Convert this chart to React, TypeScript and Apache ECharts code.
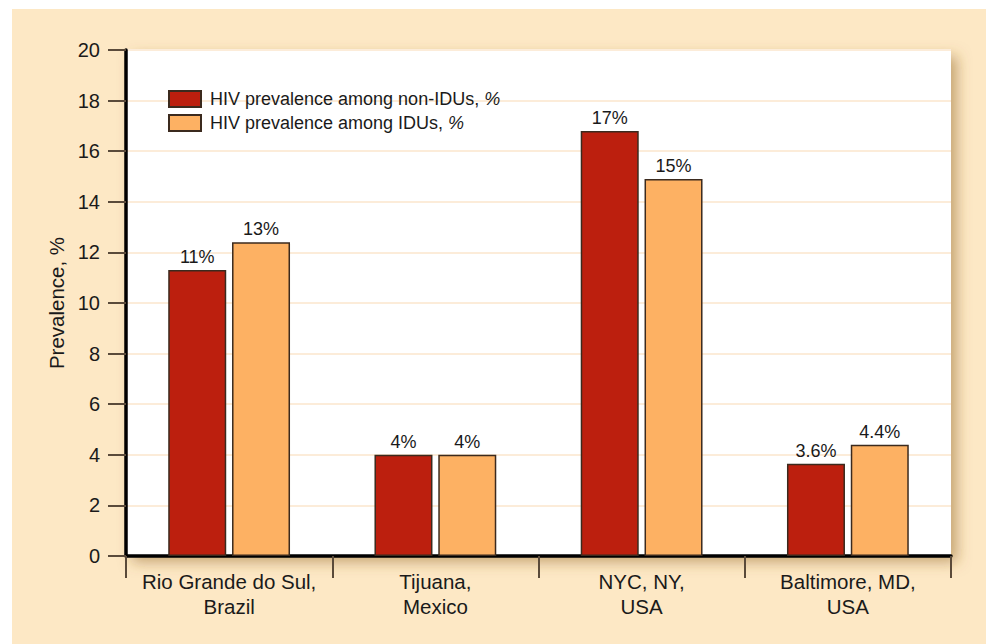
import React, { useEffect, useRef } from "react";
import * as echarts from "echarts";

const categories = ["Rio Grande do Sul,\nBrazil", "Tijuana,\nMexico", "NYC, NY,\nUSA", "Baltimore, MD,\nUSA"];
const seriesNames = ["HIV prevalence among non-IDUs, %", "HIV prevalence among IDUs, %"];
const nonIduValues = [11.3, 4.0, 16.8, 3.65];
const iduValues = [12.4, 4.0, 14.9, 4.4];
const nonIduLabels = ["11%", "4%", "17%", "3.6%"];
const iduLabels = ["13%", "4%", "15%", "4.4%"];
const yTicks = { min: 0, max: 20, interval: 2 };

const FONT = "'Liberation Sans', Arial, Helvetica, sans-serif";

export default function App() {
  const ref = useRef<HTMLDivElement>(null);
  useEffect(() => {
    if (!ref.current) return;
    const chart = echarts.init(ref.current, null, { renderer: "svg" });
    const border = "#3b2a1e";
    const mkLabel = (labels: string[]) => ({
      show: true,
      position: "top",
      distance: 4,
      fontFamily: FONT,
      fontSize: 18,
      color: "#1a1a1a",
      formatter: (p: any) => labels[p.dataIndex],
    });
    chart.setOption({
      animation: false,
      textStyle: { fontFamily: FONT },
      graphic: [
        {
          type: "rect",
          z: -10,
          shape: { x: 12, y: 9, width: 974, height: 635 },
          style: { fill: "#fde8c5" },
        },
      ],
      grid: {
        left: 126,
        right: 35,
        top: 50,
        bottom: 88,
        show: true,
        backgroundColor: "#ffffff",
        borderWidth: 0,
        shadowBlur: 14,
        shadowColor: "rgba(140,95,30,0.5)",
        shadowOffsetX: 6,
        shadowOffsetY: 6,
      },
      legend: {
        orient: "vertical",
        left: 163,
        top: 85,
        itemWidth: 32,
        itemHeight: 16,
        itemGap: 6,
        icon: "rect",
        data: seriesNames,
        formatter: (name: string) => `{n|${name.slice(0, -1)}}{i|%}`,
        textStyle: {
          fontFamily: FONT,
          fontSize: 18,
          color: "#1a1a1a",
          padding: [0, 0, 0, 4],
          rich: {
            n: { fontFamily: FONT, fontSize: 18, color: "#1a1a1a" },
            i: { fontFamily: FONT, fontSize: 18, color: "#1a1a1a", fontStyle: "italic" },
          },
        },
      },
      xAxis: {
        type: "category",
        data: categories,
        axisLine: { lineStyle: { color: "#000", width: 3.5 } },
        axisTick: { show: true, interval: 0, length: 22, lineStyle: { color: "#5a4a3a", width: 2 } },
        axisLabel: {
          interval: 0,
          fontFamily: FONT,
          fontSize: 20.5,
          lineHeight: 25,
          color: "#1a1a1a",
          margin: 13,
        },
      },
      yAxis: {
        type: "value",
        min: yTicks.min,
        max: yTicks.max,
        interval: yTicks.interval,
        name: "Prevalence, %",
        nameLocation: "middle",
        nameGap: 58,
        nameTextStyle: { fontFamily: FONT, fontSize: 20.5, color: "#1a1a1a" },
        axisLine: { show: true, lineStyle: { color: "#000", width: 3.5 } },
        axisTick: { show: true, length: 18, lineStyle: { color: "#5a4a3a", width: 2 } },
        axisLabel: { fontFamily: FONT, fontSize: 20, color: "#1a1a1a", margin: 26 },
        splitLine: { show: true, lineStyle: { color: "#fcecd9", width: 2 } },
      },
      series: [
        {
          name: seriesNames[0],
          type: "bar",
          data: nonIduValues,
          barWidth: 58,
          barGap: "10%",
          itemStyle: { color: "#bc1f0e", borderColor: border, borderWidth: 1.5 },
          label: mkLabel(nonIduLabels),
        },
        {
          name: seriesNames[1],
          type: "bar",
          data: iduValues,
          barWidth: 58,
          barGap: "10%",
          itemStyle: { color: "#fdb163", borderColor: border, borderWidth: 1.5 },
          label: mkLabel(iduLabels),
        },
      ],
    });
    return () => chart.dispose();
  }, []);
  return (
    <div
      ref={ref}
      style={{ position: "fixed", left: 0, top: 0, width: 986, height: 644, background: "#ffffff" }}
    />
  );
}
